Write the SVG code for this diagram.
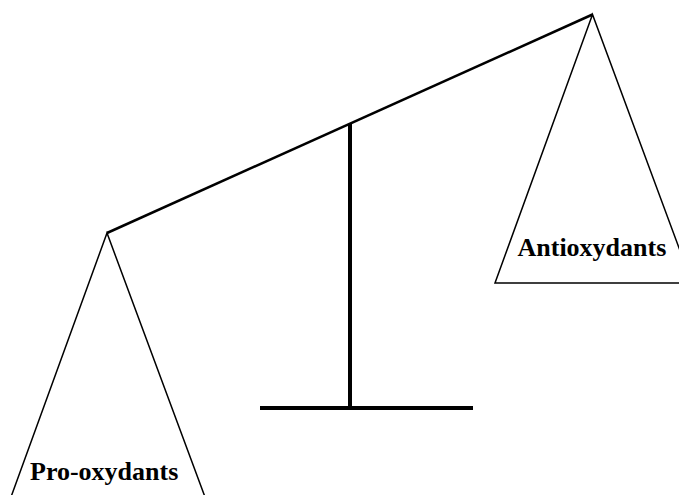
<svg xmlns="http://www.w3.org/2000/svg" width="679" height="495" viewBox="0 0 679 495">
<style>
.pan{fill:none;stroke:#000;stroke-width:1.5;stroke-linejoin:miter}
.lbl{font-family:"Liberation Serif","Times New Roman",serif;font-weight:bold;font-size:26px;fill:#000}
.beam{stroke:#000;stroke-width:2.5;fill:none}
.post{stroke:#000;stroke-width:4;fill:none}
</style>
<rect width="679" height="495" fill="#fff"/>
<g id="connectors">
<line class="beam" x1="107" y1="233" x2="592.5" y2="14.5"/>
<line class="post" x1="350" y1="124" x2="350" y2="408"/>
<line class="post" x1="260" y1="408" x2="473" y2="408"/>
</g>
<g id="antioxydants">
<polygon class="pan" points="592.5,14.5 495,283 692,283"/>
<text class="lbl" x="517.5" y="256">Antioxydants</text>
</g>
<g id="prooxydants">
<polyline class="pan" points="11,497 107,233 205,497"/>
<text class="lbl" x="30" y="480">Pro-oxydants</text>
</g>
</svg>
